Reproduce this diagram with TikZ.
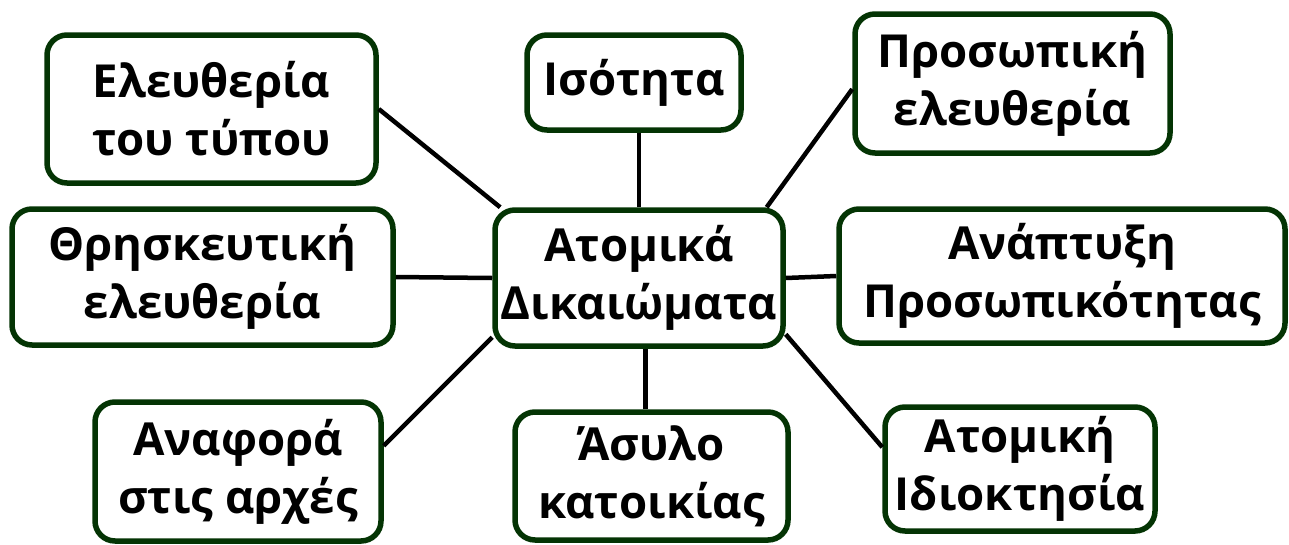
\documentclass[tikz,border=0pt]{standalone}
\usepackage{fontspec}
\setmainfont{Open Sans}
\usepackage{tikz}
\definecolor{boxgreen}{RGB}{4,52,4}

\begin{document}
\begin{tikzpicture}[x=1pt, y=-1pt]
        \useasboundingbox (0,0) rectangle (1289,544);
        \tikzset{every node/.style={draw=boxgreen, line width=5.5pt, rounded corners=20pt, fill=white,
                 align=center, inner sep=1pt, font=\fontsize{45.5}{58}\selectfont\bfseries}}
        % outer ring
        \node[minimum width=329, minimum height=148] (ele) at (211.5,109) {Ελευθερία\\του τύπου};
        \node[minimum width=214, minimum height=95] (iso) at (634,82.5) {Ισότητα};
        \node[minimum width=315, minimum height=139] (pro) at (1012.5,83.5) {Προσωπική\\ελευθερία};
        \node[minimum width=381, minimum height=136] (thr) at (202.5,277) {Θρησκευτική\\ελευθερία};
        \node[minimum width=446, minimum height=134] (ana) at (1062,276) {Ανάπτυξη\\Προσωπικότητας};
        \node[minimum width=286, minimum height=139] (anf) at (238,471.5) {Αναφορά\\στις αρχές};
        \node[minimum width=273, minimum height=128] (asy) at (651.5,476) {Άσυλο\\κατοικίας};
        \node[minimum width=270, minimum height=124] (idi) at (1020,469) {Ατομική\\Ιδιοκτησία};
        % center
        \node[minimum width=288, minimum height=136] (cen) at (639,278) {Ατομικά\\Δικαιώματα};
        \tikzset{link/.style={draw=black, line width=4.5pt}};
        \path (ele.east) edge [link] (cen.153);
        \path (cen.north) edge [link] (cen.north |- iso.south);
        \path (pro.182) edge [link] (cen.29);
        \path (thr.east) edge [link] (cen.west);
        \path (cen.east) edge [link] (ana.west);
        \path (anf.10) edge [link] (cen.202);
        \path ([xshift=-6pt]asy.north) edge [link] ([xshift=-6pt]asy.north |- cen.south);
        \path (cen.339) edge [link] (idi.171);
      \end{tikzpicture}
\end{document}
